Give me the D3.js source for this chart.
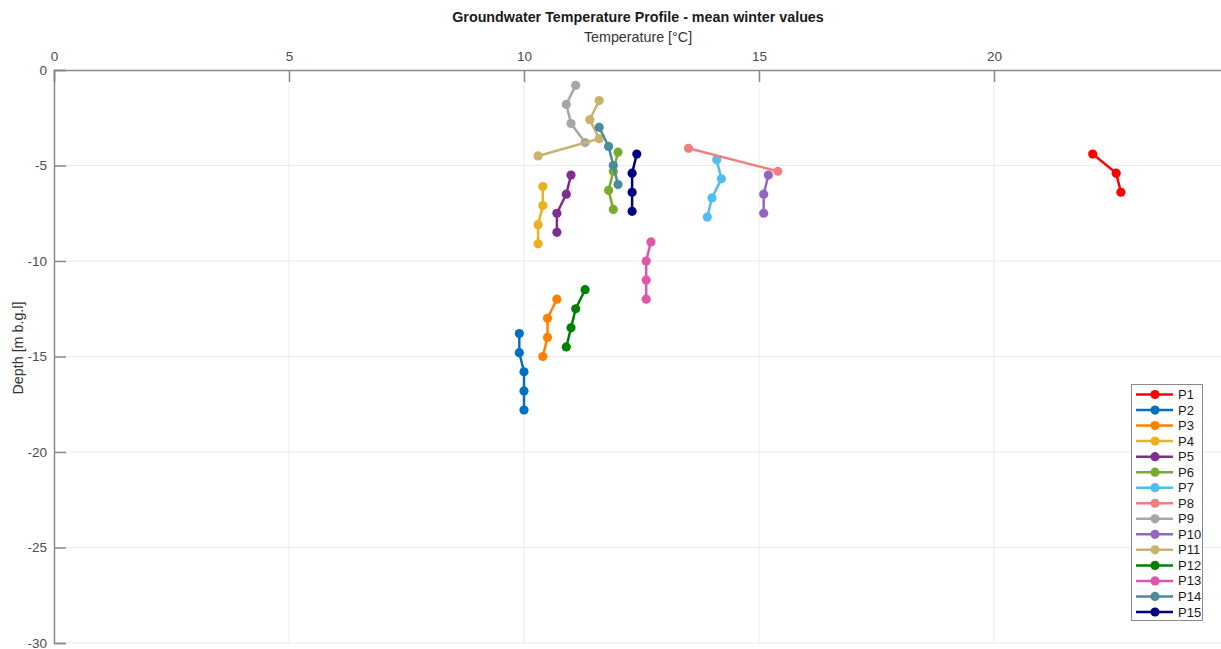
<!DOCTYPE html>
<html>
<head>
<meta charset="utf-8">
<script src="https://cdn.jsdelivr.net/npm/d3@7"></script>
<style>
  html, body { margin: 0; padding: 0; background: #fff; }
  svg { display: block; font-family: "Liberation Sans", Arial, Helvetica, sans-serif; }
</style>
</head>
<body>
<svg id="chart" width="1221" height="649"></svg>
<script>
const seriesNames = ["P1","P2","P3","P4","P5","P6","P7","P8","P9","P10","P11","P12","P13","P14","P15"];
const seriesColors = ["#ff0000","#0072bd","#ff8000","#edb120","#7e2f8e","#77ac30","#4dbeee","#f08080","#a6a6a6","#9467bd","#c9b26b","#008000","#e056a8","#4a8c9a","#000080"];
const temps = [
  [22.1, 22.6, 22.7],
  [9.9, 9.9, 10.0, 10.0, 10.0],
  [10.7, 10.5, 10.5, 10.4],
  [10.4, 10.4, 10.3, 10.3],
  [11.0, 10.9, 10.7, 10.7],
  [12.0, 11.9, 11.8, 11.9],
  [14.1, 14.2, 14.0, 13.9],
  [13.5, 15.4],
  [11.1, 10.9, 11.0, 11.3],
  [15.2, 15.1, 15.1],
  [11.6, 11.4, 11.6, 10.3],
  [11.3, 11.1, 11.0, 10.9],
  [12.7, 12.6, 12.6, 12.6],
  [11.6, 11.8, 11.9, 12.0],
  [12.4, 12.3, 12.3, 12.3]
];
const depths = [
  [-4.4, -5.4, -6.4],
  [-13.8, -14.8, -15.8, -16.8, -17.8],
  [-12, -13, -14, -15],
  [-6.1, -7.1, -8.1, -9.1],
  [-5.5, -6.5, -7.5, -8.5],
  [-4.3, -5.3, -6.3, -7.3],
  [-4.7, -5.7, -6.7, -7.7],
  [-4.1, -5.3],
  [-0.8, -1.8, -2.8, -3.8],
  [-5.5, -6.5, -7.5],
  [-1.6, -2.6, -3.6, -4.5],
  [-11.5, -12.5, -13.5, -14.5],
  [-9.0, -10.0, -11.0, -12.0],
  [-3.0, -4.0, -5.0, -6.0],
  [-4.4, -5.4, -6.4, -7.4]
];
const xTicks = [0, 5, 10, 15, 20];
const yTicks = [0, -5, -10, -15, -20, -25, -30];
const titleText = "Groundwater Temperature Profile - mean winter values";
const xLabel = "Temperature [°C]";
const yLabel = "Depth [m b.g.l]";

const svg = d3.select("#chart");
const x = d3.scaleLinear().domain([0, 25]).range([54, 1229]);
const y = d3.scaleLinear().domain([-30, 0]).range([643, 70]);

// grid
const grid = svg.append("g");
grid.selectAll("line.vx").data(xTicks.filter(t => t > 0)).enter().append("line")
  .attr("x1", d => x(d)).attr("x2", d => x(d)).attr("y1", y(0)).attr("y2", y(-30))
  .attr("stroke", "#ebebeb").attr("stroke-width", 1);
grid.selectAll("line.hy").data(yTicks.filter(t => t < 0)).enter().append("line")
  .attr("x1", x(0)).attr("x2", 1221).attr("y1", d => y(d)).attr("y2", d => y(d))
  .attr("stroke", "#ebebeb").attr("stroke-width", 1);

// axes
const xAxis = d3.axisTop(x).tickValues(xTicks).tickSize(-12).tickPadding(9).tickFormat(d3.format("d"));
const gx = svg.append("g").attr("transform", `translate(0,${y(0)})`).call(xAxis);
const yAxis = d3.axisLeft(y).tickValues(yTicks).tickSize(-12).tickPadding(7).tickFormat(d => d === 0 ? "0" : "-" + Math.abs(d));
const gy = svg.append("g").attr("transform", `translate(${x(0)},0)`).call(yAxis);
[gx, gy].forEach(g => {
  g.select(".domain").attr("stroke", "#8a8a8a").attr("stroke-width", 1.5);
  g.selectAll(".tick line").attr("stroke", "#8a8a8a").attr("stroke-width", 1.5);
  g.selectAll(".tick text").attr("fill", "#4d4d4d").attr("font-size", 13.5)
    .attr("font-family", "'Liberation Sans', Arial, sans-serif");
});
gx.selectAll(".tick text").attr("dy", "0");

// titles
svg.append("text").attr("x", 638).attr("y", 22).attr("text-anchor", "middle")
  .attr("font-size", 14.3).attr("font-weight", "bold").attr("fill", "#1a1a1a").text(titleText);
svg.append("text").attr("x", 638).attr("y", 42).attr("text-anchor", "middle")
  .attr("font-size", 14.3).attr("fill", "#333").text(xLabel);
svg.append("text").attr("transform", `translate(23,${348}) rotate(-90)`).attr("text-anchor", "middle")
  .attr("font-size", 14.3).attr("fill", "#333").text(yLabel);

// series
const line = d3.line().x(d => x(d[0])).y(d => y(d[1]));
seriesNames.forEach((name, i) => {
  const pts = temps[i].map((t, j) => [t, depths[i][j]]);
  const g = svg.append("g");
  g.append("path").attr("d", line(pts)).attr("fill", "none")
    .attr("stroke", seriesColors[i]).attr("stroke-width", 2.5);
  g.selectAll("circle").data(pts).enter().append("circle")
    .attr("cx", d => x(d[0])).attr("cy", d => y(d[1])).attr("r", 4.6)
    .attr("fill", seriesColors[i]);
});

// legend
const lg = svg.append("g");
lg.append("rect").attr("x", 1131.5).attr("y", 384.5).attr("width", 71).attr("height", 236)
  .attr("fill", "#fff").attr("stroke", "#8a8a8a").attr("stroke-width", 1);
const ly = d3.scalePoint().domain(seriesNames).range([394.5, 612]);
seriesNames.forEach((name, i) => {
  const yy = ly(name);
  lg.append("line").attr("x1", 1136).attr("x2", 1173).attr("y1", yy).attr("y2", yy)
    .attr("stroke", seriesColors[i]).attr("stroke-width", 2.5);
  lg.append("circle").attr("cx", 1155).attr("cy", yy).attr("r", 4.6).attr("fill", seriesColors[i]);
  lg.append("text").attr("x", 1178).attr("y", yy + 4.5).attr("font-size", 13)
    .attr("fill", "#1a1a1a").text(name);
});
</script>
</body>
</html>
